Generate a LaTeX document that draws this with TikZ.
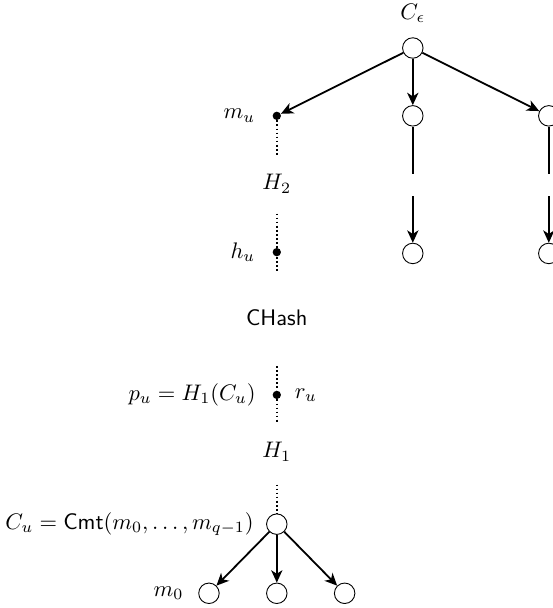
\documentclass[tikz,border=0pt]{standalone}
\usepackage{amsmath,amssymb}
\usetikzlibrary{arrows.meta,positioning}

\begin{document}
\begin{tikzpicture}[
    vtx/.style={on grid, circle, draw, minimum size=3.2mm, inner sep=0pt},
    dot/.style={on grid, circle, fill, minimum size=1.3mm, inner sep=0pt},
    arrow/.style={->, >={Stealth[length=5.5pt, width=5pt, inset=1.6pt]}, thick},
    hop/.style={densely dotted, thick},
    gap/.style={fill=white, inner sep=0pt, minimum width=2mm},
    hoplbl/.style={fill=white, inner sep=1pt}
]
\useasboundingbox (0,0) rectangle (8.64,-9.5);

% top tree
\node[vtx] (root) at (6.45,-0.75) {};
\node[above=3pt of root] (rootlbl) {$C_\epsilon$};
\node[dot, below left=1.06cm and 2.125cm of root] (mu) {};
\node[vtx, below=1.06cm of root] (mid) {};
\node[vtx, below right=1.06cm and 2.125cm of root] (rgt) {};
\node[vtx, below=2.15cm of mid] (midlow) {};
\node[vtx, below=2.15cm of rgt] (rgtlow) {};

\draw[arrow] (root) -- (mu);
\draw[arrow] (root) -- (mid);
\draw[arrow] (root) -- (rgt);
\draw[arrow] (mid) -- node[gap, minimum height=3.4mm] (midgap) {} (midlow);
\draw[arrow] (rgt) -- node[gap, minimum height=3.4mm] (rgtgap) {} (rgtlow);

% hash chain
\node[dot, below=2.13cm of mu] (hu) {};
\node[dot, below=2.23cm of hu] (pu) {};
\node[vtx, below=2.02cm of pu] (cu) {};
\node[left=4pt of mu] (mulbl) {$m_u$};
\node[left=4pt of hu] (hulbl) {$h_u$};
\node[left=3.8pt of pu] (pulbl) {$p_u = H_1(C_u)$};
\node[right=2.5pt of pu] (rulbl) {$r_u$};
\node[left=2pt of cu] (culbl) {$C_u = \mathsf{Cmt}(m_0, \ldots, m_{q-1})$};

\draw[hop] (mu) -- node[hoplbl, minimum height=8.9mm] (h2) {$H_2$} (hu);
\draw[hop] (hu) -- node[hoplbl, pos=0.46, minimum height=14.8mm] (chash) {\textsf{CHash}} (pu);
\draw[hop] (pu) -- node[hoplbl, pos=0.46, minimum height=9.4mm] (h1) {$H_1$} (cu);

% bottom tree
\node[vtx, below left=1.08cm and 1.06cm of cu] (m0) {};
\node[vtx, below=1.08cm of cu] (mmid) {};
\node[vtx, below right=1.08cm and 1.06cm of cu] (mlast) {};
\node[left=3pt of m0] (m0lbl) {$m_0$};

\draw[arrow] (cu) -- (m0);
\draw[arrow] (cu) -- (mmid);
\draw[arrow] (cu) -- (mlast);
\end{tikzpicture}
\end{document}
